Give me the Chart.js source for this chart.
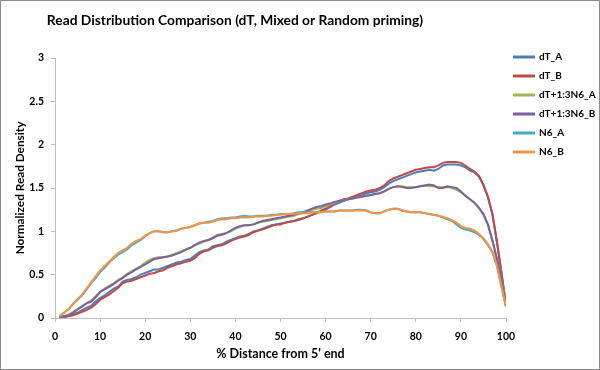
<!DOCTYPE html>
<html>
<head>
<meta charset="utf-8">
<script src="https://cdn.jsdelivr.net/npm/chart.js@4/dist/chart.umd.min.js"></script>
<style>
  body { margin: 0; background: #fff; }
</style>
</head>
<body>
<canvas id="chart" width="600" height="370"></canvas>
<script>
// % distance from 5' end
const distance = [
  1, 2, 3, 4, 5, 6, 7, 8, 9, 10, 11, 12, 13, 14, 15, 16, 17, 18, 19, 20,
  21, 22, 23, 24, 25, 26, 27, 28, 29, 30, 31, 32, 33, 34, 35, 36, 37, 38, 39, 40,
  41, 42, 43, 44, 45, 46, 47, 48, 49, 50, 51, 52, 53, 54, 55, 56, 57, 58, 59, 60,
  61, 62, 63, 64, 65, 66, 67, 68, 69, 70, 71, 72, 73, 74, 75, 76, 77, 78, 79, 80,
  81, 82, 83, 84, 85, 86, 87, 88, 89, 90, 91, 92, 93, 94, 95, 96, 97, 98, 99, 100
];

const dT_A = [
  0.00, 0.01, 0.03, 0.04, 0.06, 0.09, 0.12, 0.14, 0.19, 0.23,
  0.26, 0.30, 0.34, 0.36, 0.42, 0.44, 0.45, 0.47, 0.50, 0.52,
  0.54, 0.56, 0.56, 0.58, 0.60, 0.62, 0.64, 0.65, 0.67, 0.68,
  0.72, 0.76, 0.78, 0.79, 0.83, 0.84, 0.85, 0.88, 0.90, 0.92,
  0.94, 0.95, 0.97, 1.00, 1.01, 1.03, 1.05, 1.07, 1.08, 1.09,
  1.10, 1.11, 1.12, 1.13, 1.15, 1.17, 1.19, 1.21, 1.23, 1.25,
  1.28, 1.31, 1.33, 1.35, 1.37, 1.39, 1.41, 1.42, 1.44, 1.45,
  1.46, 1.48, 1.51, 1.55, 1.58, 1.60, 1.62, 1.64, 1.66, 1.68,
  1.69, 1.70, 1.71, 1.70, 1.72, 1.76, 1.77, 1.77, 1.77, 1.76,
  1.74, 1.70, 1.68, 1.63, 1.53, 1.39, 1.19, 0.87, 0.52, 0.15
];

const dT_B = [
  0.00, 0.01, 0.02, 0.03, 0.05, 0.07, 0.09, 0.12, 0.16, 0.21,
  0.24, 0.27, 0.31, 0.35, 0.40, 0.42, 0.43, 0.45, 0.47, 0.49,
  0.51, 0.52, 0.54, 0.55, 0.58, 0.60, 0.62, 0.63, 0.65, 0.66,
  0.69, 0.74, 0.77, 0.78, 0.81, 0.83, 0.84, 0.86, 0.89, 0.91,
  0.93, 0.94, 0.96, 0.99, 1.01, 1.02, 1.04, 1.06, 1.08, 1.08,
  1.10, 1.11, 1.12, 1.14, 1.15, 1.17, 1.19, 1.21, 1.24, 1.26,
  1.29, 1.32, 1.35, 1.37, 1.38, 1.40, 1.42, 1.44, 1.46, 1.47,
  1.48, 1.50, 1.53, 1.58, 1.61, 1.63, 1.65, 1.67, 1.69, 1.71,
  1.72, 1.73, 1.74, 1.74, 1.76, 1.79, 1.80, 1.80, 1.80, 1.79,
  1.76, 1.72, 1.69, 1.64, 1.54, 1.40, 1.20, 0.88, 0.52, 0.15
];

const dT_N6_A = [
  0.01, 0.02, 0.04, 0.07, 0.10, 0.14, 0.17, 0.20, 0.25, 0.30,
  0.34, 0.37, 0.40, 0.44, 0.47, 0.51, 0.54, 0.57, 0.60, 0.64,
  0.67, 0.69, 0.70, 0.70, 0.71, 0.73, 0.75, 0.77, 0.79, 0.81,
  0.84, 0.86, 0.88, 0.90, 0.93, 0.96, 0.97, 0.98, 1.00, 1.03,
  1.05, 1.07, 1.07, 1.08, 1.10, 1.11, 1.12, 1.13, 1.14, 1.15,
  1.16, 1.17, 1.18, 1.20, 1.21, 1.23, 1.25, 1.26, 1.27, 1.29,
  1.31, 1.33, 1.35, 1.36, 1.37, 1.38, 1.39, 1.40, 1.41, 1.42,
  1.43, 1.44, 1.46, 1.49, 1.51, 1.52, 1.52, 1.51, 1.51, 1.51,
  1.52, 1.53, 1.52, 1.52, 1.51, 1.51, 1.51, 1.50, 1.48, 1.45,
  1.41, 1.37, 1.33, 1.27, 1.19, 1.07, 0.89, 0.68, 0.44, 0.14
];

const dT_N6_B = [
  0.01, 0.02, 0.03, 0.06, 0.10, 0.13, 0.17, 0.19, 0.24, 0.30,
  0.33, 0.36, 0.39, 0.43, 0.46, 0.50, 0.53, 0.56, 0.59, 0.62,
  0.65, 0.68, 0.69, 0.70, 0.71, 0.72, 0.74, 0.76, 0.79, 0.81,
  0.84, 0.87, 0.89, 0.90, 0.92, 0.95, 0.96, 0.98, 1.01, 1.04,
  1.06, 1.07, 1.07, 1.08, 1.10, 1.12, 1.13, 1.14, 1.15, 1.16,
  1.17, 1.18, 1.19, 1.21, 1.22, 1.24, 1.26, 1.28, 1.29, 1.31,
  1.32, 1.34, 1.35, 1.36, 1.37, 1.38, 1.39, 1.40, 1.41, 1.42,
  1.43, 1.44, 1.46, 1.49, 1.51, 1.52, 1.51, 1.50, 1.50, 1.51,
  1.52, 1.53, 1.54, 1.53, 1.50, 1.50, 1.52, 1.51, 1.50, 1.46,
  1.41, 1.37, 1.33, 1.27, 1.20, 1.08, 0.89, 0.68, 0.44, 0.14
];

const N6_A = [
  0.02, 0.06, 0.10, 0.16, 0.21, 0.26, 0.33, 0.40, 0.46, 0.53,
  0.58, 0.64, 0.69, 0.73, 0.76, 0.79, 0.84, 0.87, 0.90, 0.94,
  0.98, 1.00, 1.00, 0.99, 0.99, 1.00, 1.01, 1.03, 1.04, 1.05,
  1.07, 1.09, 1.10, 1.11, 1.12, 1.14, 1.15, 1.15, 1.16, 1.16,
  1.17, 1.18, 1.17, 1.17, 1.18, 1.18, 1.18, 1.19, 1.19, 1.20,
  1.20, 1.20, 1.21, 1.22, 1.22, 1.22, 1.22, 1.22, 1.22, 1.23,
  1.23, 1.23, 1.24, 1.24, 1.24, 1.24, 1.25, 1.25, 1.24, 1.22,
  1.21, 1.21, 1.23, 1.25, 1.26, 1.26, 1.24, 1.23, 1.22, 1.22,
  1.22, 1.21, 1.20, 1.19, 1.18, 1.16, 1.14, 1.12, 1.08, 1.04,
  1.02, 1.01, 0.99, 0.96, 0.91, 0.84, 0.76, 0.60, 0.36, 0.13
];

const N6_B = [
  0.02, 0.06, 0.10, 0.16, 0.22, 0.27, 0.34, 0.41, 0.48, 0.55,
  0.60, 0.65, 0.70, 0.75, 0.78, 0.81, 0.86, 0.89, 0.91, 0.95,
  0.98, 1.00, 1.00, 0.99, 0.99, 1.00, 1.01, 1.03, 1.04, 1.05,
  1.07, 1.09, 1.10, 1.10, 1.11, 1.13, 1.14, 1.14, 1.15, 1.15,
  1.16, 1.16, 1.16, 1.17, 1.17, 1.17, 1.18, 1.18, 1.19, 1.19,
  1.20, 1.20, 1.20, 1.21, 1.21, 1.21, 1.22, 1.22, 1.22, 1.23,
  1.23, 1.23, 1.24, 1.24, 1.24, 1.24, 1.24, 1.24, 1.24, 1.22,
  1.21, 1.21, 1.23, 1.25, 1.26, 1.26, 1.24, 1.23, 1.22, 1.22,
  1.22, 1.21, 1.20, 1.19, 1.18, 1.17, 1.15, 1.13, 1.10, 1.06,
  1.04, 1.03, 1.01, 0.97, 0.92, 0.85, 0.76, 0.60, 0.36, 0.13
];

const seriesNames = ['dT_A', 'dT_B', 'dT+1:3N6_A', 'dT+1:3N6_B', 'N6_A', 'N6_B'];
const seriesValues = [dT_A, dT_B, dT_N6_A, dT_N6_B, N6_A, N6_B];
const seriesColors = ['#4A7EBB', '#BE4B48', '#98B954', '#7D60A0', '#46AAC5', '#F69240'];

const chartTitle = 'Read Distribution Comparison (dT, Mixed or Random priming)';
const xTitle = "% Distance from 5' end";
const yTitle = 'Normalized Read Density';

const FONT = 'Lato, "Open Sans", sans-serif';

// white background, grey frame and the title
const framePlugin = {
    id: 'frame',
    afterLayout: function (chart) {
        // legend sits a bit higher and to the left than Chart.js puts it
        chart.legend.top -= 15;
        chart.legend.left -= 1;
    },
    beforeDraw: function (chart) {
        const ctx = chart.ctx;
        ctx.save();
        ctx.fillStyle = '#ffffff';
        ctx.fillRect(0, 0, chart.width, chart.height);
        ctx.strokeStyle = '#8c8c8c';
        ctx.lineWidth = 1;
        ctx.strokeRect(0.5, 0.5, chart.width - 1, chart.height - 1);
        ctx.restore();
    },
    afterDraw: function (chart) {
        const ctx = chart.ctx;
        ctx.save();
        ctx.font = 'bold 13.8px ' + FONT;
        ctx.fillStyle = '#000000';
        ctx.textAlign = 'center';
        ctx.textBaseline = 'middle';
        ctx.fillText(chartTitle, 235, 21);
        ctx.restore();
    }
};

const datasets = seriesNames.map(function (name, i) {
    return {
        label: name,
        data: distance.map(function (x, j) { return { x: x, y: seriesValues[i][j] }; }),
        borderColor: seriesColors[i],
        backgroundColor: seriesColors[i],
        borderWidth: 2,
        pointRadius: 0,
        fill: false,
        tension: 0,
        order: seriesNames.length - i   // later series drawn on top, like Excel
    };
});

const ctx = document.getElementById('chart').getContext('2d');
const chart = new Chart(ctx, {
    type: 'line',
    data: { datasets: datasets },
    options: {
        responsive: false,
        animation: false,
        layout: { padding: { top: 58, right: 0, bottom: 0, left: 0 } },
        plugins: {
            legend: {
                position: 'right',
                align: 'start',
                maxWidth: 94,
                labels: {
                    boxWidth: 20,
                    boxHeight: 1,
                    padding: 9,
                    color: '#000',
                    font: { family: FONT, size: 10, weight: 'bold' },
                    sort: function (a, b) { return a.datasetIndex - b.datasetIndex; }
                }
            },
            title: { display: false },
            tooltip: { enabled: false }
        },
        scales: {
            x: {
                type: 'linear',
                min: 0,
                max: 100,
                afterFit: function (scale) { scale.height = 52; },
                ticks: {
                    stepSize: 10,
                    padding: 8,
                    color: '#000',
                    maxRotation: 0,
                    font: { family: FONT, size: 10.5, weight: 'bold' }
                },
                grid: {
                    drawOnChartArea: false,
                    drawTicks: true,
                    tickLength: 4,
                    color: '#bfbfbf'
                },
                border: { color: '#bfbfbf' },
                title: {
                    display: true,
                    text: xTitle,
                    color: '#000',
                    padding: { top: 2, bottom: 9 },
                    font: { family: FONT, size: 12.5, weight: 'bold' }
                }
            },
            y: {
                min: 0,
                max: 3,
                afterFit: function (scale) { scale.width = 55; },
                ticks: {
                    stepSize: 0.5,
                    padding: 7,
                    color: '#000',
                    font: { family: FONT, size: 10.5, weight: 'bold' },
                    callback: function (value) { return String(value); }
                },
                grid: {
                    drawOnChartArea: false,
                    drawTicks: true,
                    tickLength: 4,
                    color: '#bfbfbf'
                },
                border: { color: '#bfbfbf' },
                title: {
                    display: true,
                    text: yTitle,
                    color: '#000',
                    padding: { top: 13, bottom: 0 },
                    font: { family: FONT, size: 11.8, weight: 'bold' }
                }
            }
        }
    },
    plugins: [framePlugin]
});
</script>
</body>
</html>
